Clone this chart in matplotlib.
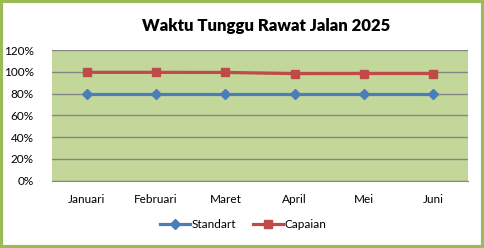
import matplotlib
matplotlib.use("Agg")
import matplotlib.pyplot as plt
from matplotlib.patches import Rectangle
from matplotlib.ticker import FuncFormatter, MultipleLocator

months = ["Januari", "Februari", "Maret", "April", "Mei", "Juni"]
standart = [80, 80, 80, 80, 80, 80]
capaian = [99.7, 99.7, 99.6, 98.5, 98.6, 98.6]
title = "Waktu Tunggu Rawat Jalan 2025"

plt.rcParams['font.family'] = ['Lato', 'DejaVu Sans']

fig = plt.figure(figsize=(4.85, 2.48), dpi=100)
ax = fig.add_axes([52/485, 1-180.5/248, (468-52)/485, (180.5-50.3)/248])
ax.set_facecolor("#C4D79B")

x = list(range(len(months)))
ax.plot(x, standart, color="#4A7EBB", lw=2.3, marker="D", ms=5.2,
        markeredgecolor="#4A7EBB", label="Standart", zorder=3)
ax.plot(x, capaian, color="#BE4B48", lw=2.3, marker="s", ms=6.3,
        markeredgecolor="#BE4B48", label="Capaian", zorder=3)

ax.set_xlim(-0.5, 5.5)
ax.set_ylim(0, 120)
ax.yaxis.set_major_locator(MultipleLocator(20))
ax.yaxis.set_major_formatter(FuncFormatter(lambda v, p: f"{int(v)}%"))
ax.set_xticks(x)
ax.set_xticklabels(months)
ax.grid(axis="y", color="#868686", lw=1)
ax.set_axisbelow(True)
for s in ["top", "right", "left"]:
    ax.spines[s].set_visible(False)
ax.spines["bottom"].set_color("#868686")
ax.tick_params(axis="both", length=0, labelsize=8.5, colors="#000000")
ax.tick_params(axis="y", pad=13)
ax.tick_params(axis="x", pad=10)

fig.text(266/485, 1-26/248, title, ha="center", va="center",
         fontsize=12, fontweight="heavy")

leg = fig.legend(loc="center", bbox_to_anchor=(243/485, 1-225/248), ncol=2,
                 frameon=False, fontsize=8.5, handlelength=2.6,
                 handletextpad=0.1, columnspacing=1.4)

fig.patches.append(Rectangle((0.003, 0.006), 0.992, 0.99, transform=fig.transFigure,
                             fill=False, edgecolor="#9BBB59", lw=3))

fig.savefig("out.png", dpi=100)
